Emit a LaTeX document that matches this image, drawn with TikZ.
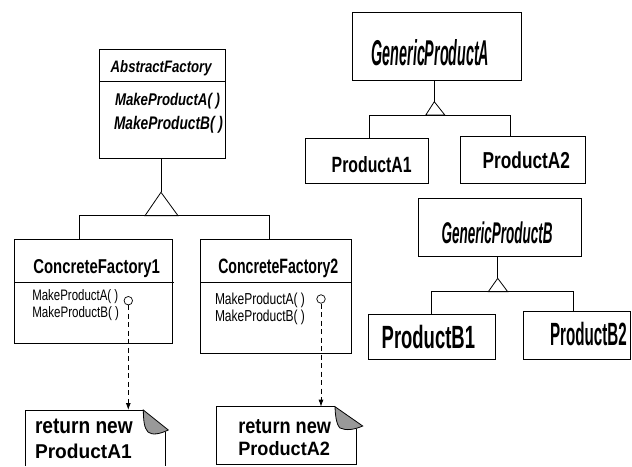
\documentclass[tikz,border=0pt]{standalone}
\usepackage{fontspec}
\setmainfont{Liberation Sans}
\usepackage{graphicx}
\usetikzlibrary{arrows.meta}
% set a label at a given width and height (in pt)
\newcommand\fitt[3]{\resizebox{#1pt}{#2pt}{#3}}
\begin{document}
\begin{tikzpicture}[x=1pt,y=-1pt,
  box/.style={draw, line width=0.9pt, inner sep=0pt, outer sep=0pt},
  lbl/.style={anchor=base west, inner sep=0pt, outer sep=0pt},
  link/.style={line width=0.8pt},
  dep/.style={line width=0.8pt, dash pattern=on 5pt off 3.5pt, -{Latex[length=7pt,width=5pt]}},
  port/.style={circle, draw, line width=0.7pt, minimum size=8.5pt, inner sep=0pt, fill=white},
  fold/.style={draw, line width=0.8pt, fill=black!40},
]
\useasboundingbox (0,0) rectangle (632,466);

% ---- factory classes ----
\node[box, minimum width=126.7pt, minimum height=109pt] (af) at (162.35,103.8) {};
\draw[link] (af.west |- 0,81.7) -- (af.east |- 0,81.7);
\node[lbl] (afname) at (110.7,72) {\fitt{101}{12}{\bfseries\itshape AbstractFactory}};
\node[lbl] (afopa) at (115,105) {\fitt{105}{12.3}{\bfseries\itshape MakeProductA( )}};
\node[lbl] (afopb) at (114,129) {\fitt{109}{13.2}{\bfseries\itshape MakeProductB( )}};

\node[box, minimum width=158.3pt, minimum height=103.7pt] (cf1) at (93.15,291.15) {};
\draw[link] (cf1.west |- 0,282.3) -- (174,282.3);
\node[lbl] (cf1name) at (33.3,273.5) {\fitt{126.7}{14}{\bfseries ConcreteFactory1}};
\node[lbl] (cf1opa) at (32.3,300.5) {\fitt{86}{11}{MakeProductA( )}};
\node[lbl] (cf1opb) at (32.3,317.8) {\fitt{86.7}{11}{MakeProductB( )}};

\node[box, minimum width=151.7pt, minimum height=113.7pt] (cf2) at (275.85,296.15) {};
\draw[link] (cf2.west |- 0,282.3) -- (cf2.east |- 0,282.3);
\node[lbl] (cf2name) at (218.3,273.5) {\fitt{120}{14.5}{\bfseries ConcreteFactory2}};
\node[lbl] (cf2opa) at (215,304.3) {\fitt{90}{11.5}{MakeProductA( )}};
\node[lbl] (cf2opb) at (215,321) {\fitt{90}{11.5}{MakeProductB( )}};

% inheritance: concrete factories from the abstract factory
\coordinate (afTip) at (161,192.3);
\coordinate (afL) at (79,215.7);
\coordinate (afR) at (269.3,215.7);
\draw[link] (afTip |- af.south) -- (afTip);
\draw[link] (afTip) -- ++(-16,23.4) -- ++(33,0) -- cycle;
\draw[link] (afL |- cf1.north) -- (afL) -- (afR) -- (afR |- cf2.north);

% ---- implementation notes ----
\node[port] (c1) at (128.3,300.7) {};
\node[port] (c2) at (321,299) {};
\coordinate (n1) at (128.3,410);
\coordinate (n2) at (321,406.7);

\draw[link] (25,466) -- (25,410) -- (143.3,410);
\draw[fold] (143.3,410) -- (168.3,430) .. controls (160,434) and (152,435.5) .. (148,432)
  .. controls (144,428) and (143.5,420) .. cycle;
\draw[link] (165,431.5) -- (165,466);
\node[lbl] (n1a) at (35,433.3) {\fitt{97.7}{14.5}{\bfseries return new}};
\node[lbl] (n1b) at (35,458.3) {\fitt{96.7}{14.5}{\bfseries ProductA1}};

\draw[link] (335,406.7) -- (216,406.7) -- (216,464.3) -- (356.7,464.3) -- (356.7,428.5);
\draw[fold] (335,406.7) -- (362.7,426) .. controls (355,429.5) and (346,431) .. (340,428)
  .. controls (336,424) and (335.3,414) .. cycle;
\node[lbl] (n2a) at (238.3,433.3) {\fitt{92.7}{14}{\bfseries return new}};
\node[lbl] (n2b) at (238.3,455) {\fitt{91.7}{14}{\bfseries ProductA2}};

\draw[dep] (c1.south) -- (n1);
\draw[dep] (c2.south) -- (n2);

% ---- product A hierarchy ----
\node[box, minimum width=169pt, minimum height=67.7pt] (gpa) at (436.5,46.15) {};
\node[lbl] (gpaname) at (371.7,65) {\fitt{117.6}{26}{\bfseries\itshape GenericProductA}};
\node[box, minimum width=122.6pt, minimum height=45pt] (pa1) at (367,160.8) {};
\node[lbl] (pa1name) at (331.7,172.7) {\fitt{80}{16}{\bfseries ProductA1}};
\node[box, minimum width=124.3pt, minimum height=47.3pt] (pa2) at (522.85,159.65) {};
\node[lbl] (pa2name) at (482.7,168.3) {\fitt{87.3}{16.7}{\bfseries ProductA2}};

\coordinate (gaTip) at (434.3,101.7);
\coordinate (gaL) at (369.3,115);
\coordinate (gaR) at (510,115);
\draw[link] (gaTip |- gpa.south) -- (gaTip);
\draw[link] (gaTip) -- ++(-8.5,13.3) -- ++(19,0) -- cycle;
\draw[link] (gaL |- pa1.north) -- (gaL) -- (gaR) -- (gaR |- pa2.north);

% ---- product B hierarchy ----
\node[box, minimum width=163.4pt, minimum height=58.4pt] (gpb) at (500,227.5) {};
\node[lbl] (gpbname) at (441.7,243.3) {\fitt{111}{21.7}{\bfseries\itshape GenericProductB}};
\node[box, minimum width=126.7pt, minimum height=44.7pt] (pb1) at (431.65,336.65) {};
\node[lbl] (pb1name) at (381.7,348.3) {\fitt{93.3}{23.3}{\bfseries ProductB1}};
\node[box, minimum width=106.7pt, minimum height=47.3pt] (pb2) at (576.65,335.35) {};
\node[lbl] (pb2name) at (550,345) {\fitt{76.7}{23.3}{\bfseries ProductB2}};

\coordinate (gbTip) at (497.7,278.3);
\coordinate (gbL) at (431,291.7);
\coordinate (gbR) at (573.3,291.7);
\draw[link] (gbTip |- gpb.south) -- (gbTip);
\draw[link] (gbTip) -- ++(-9.4,13.4) -- ++(19.4,0) -- cycle;
\draw[link] (gbL |- pb1.north) -- (gbL) -- (gbR) -- (gbR |- pb2.north);
\end{tikzpicture}
\end{document}
